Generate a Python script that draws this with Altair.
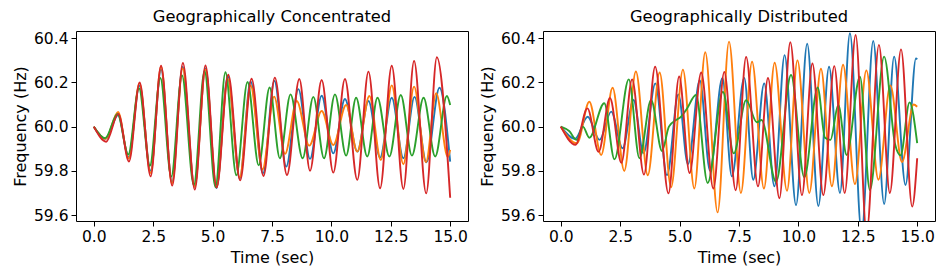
import altair as alt
import pandas as pd

# ---- Geographically Concentrated (left) ----
conc_blue_t = [0, 0.5, 1.02, 1.47, 1.92, 2.39, 2.83, 3.29, 3.74, 4.24, 4.7, 5.16, 5.64, 6.14, 6.6, 7.12, 7.6, 8.1, 8.61, 9.1, 9.59, 10.08, 10.57, 11.09, 11.56, 12.05, 12.54, 13.03, 13.5, 14.0, 14.55, 15.0]
conc_blue_f = [60.0, 59.945, 60.053, 59.862, 60.186, 59.80, 60.258, 59.75, 60.27, 59.728, 60.264, 59.722, 60.228, 59.765, 60.205, 59.788, 60.208, 59.819, 60.170, 59.854, 60.140, 59.879, 60.125, 59.887, 60.116, 59.860, 60.131, 59.857, 60.135, 59.839, 60.176, 59.842]

conc_orange_t = [0, 0.5, 1.02, 1.47, 1.92, 2.39, 2.83, 3.29, 3.74, 4.24, 4.7, 5.16, 5.64, 6.14, 6.6, 7.1, 7.59, 8.05, 8.54, 9.07, 9.59, 10.08, 10.62, 11.09, 11.6, 12.08, 12.54, 13.03, 13.48, 13.98, 14.41, 14.9, 15.0]
conc_orange_f = [60.0, 59.945, 60.067, 59.856, 60.197, 59.79, 60.272, 59.742, 60.264, 59.728, 60.258, 59.725, 60.216, 59.77, 60.186, 59.806, 60.136, 59.877, 60.116, 59.914, 60.071, 59.917, 60.098, 59.887, 60.139, 59.849, 60.187, 59.830, 60.181, 59.839, 60.151, 59.862, 59.895]

conc_green_t = [0, 0.48, 1.0, 1.45, 1.9, 2.36, 2.8, 3.26, 3.71, 4.21, 4.66, 5.12, 5.54, 6.0, 6.47, 6.94, 7.4, 7.83, 8.28, 8.79, 9.24, 9.69, 10.15, 10.62, 11.04, 11.51, 11.94, 12.44, 12.92, 13.39, 13.88, 14.37, 14.86, 15.0]
conc_green_f = [60.0, 59.948, 60.057, 59.874, 60.174, 59.823, 60.220, 59.774, 60.232, 59.736, 60.252, 59.727, 60.246, 59.78, 60.202, 59.825, 60.177, 59.857, 60.146, 59.857, 60.135, 59.857, 60.146, 59.869, 60.131, 59.865, 60.131, 59.865, 60.143, 59.869, 60.131, 59.865, 60.139, 60.098]

conc_red_t = [0, 0.52, 1.03, 1.48, 1.93, 2.39, 2.83, 3.3, 3.75, 4.25, 4.7, 5.17, 5.66, 6.16, 6.64, 7.14, 7.62, 8.13, 8.65, 9.1, 9.59, 10.08, 10.57, 11.09, 11.56, 12.05, 12.54, 13.03, 13.48, 13.99, 14.44, 15.0]
conc_red_f = [60.0, 59.932, 60.058, 59.842, 60.200, 59.775, 60.276, 59.733, 60.288, 59.715, 60.277, 59.725, 60.235, 59.757, 60.217, 59.777, 60.222, 59.781, 60.216, 59.80, 60.211, 59.792, 60.216, 59.759, 60.249, 59.721, 60.276, 59.718, 60.297, 59.698, 60.314, 59.678]

# ---- Geographically Distributed (right) ----
dist_blue_t = [0, 0.6, 1.13, 1.63, 2.12, 2.6, 3.06, 3.48, 3.98, 4.47, 4.95, 5.35, 5.85, 6.28, 6.8, 7.2, 7.72, 8.1, 8.56, 8.99, 9.42, 9.9, 10.37, 10.84, 11.29, 11.75, 12.17, 12.66, 13.15, 13.61, 14.03, 14.51, 14.95, 15.0]
dist_blue_f = [60.0, 59.945, 60.045, 59.94, 60.068, 59.902, 60.121, 59.88, 60.196, 59.78, 60.146, 59.83, 60.21, 59.80, 60.22, 59.775, 60.22, 59.76, 60.196, 59.73, 60.324, 59.645, 60.375, 59.641, 60.271, 59.70, 60.423, 59.52, 60.388, 59.65, 60.317, 59.736, 60.309, 60.305]

dist_orange_t = [0, 0.68, 1.2, 1.7, 2.18, 2.67, 3.16, 3.66, 4.16, 4.64, 5.14, 5.62, 6.08, 6.6, 7.08, 7.58, 8.05, 8.55, 9.0, 9.52, 9.96, 10.46, 10.95, 11.41, 11.88, 12.38, 12.86, 13.37, 13.87, 14.36, 14.85, 15.0]
dist_orange_f = [60.0, 59.925, 60.113, 59.872, 60.176, 59.80, 60.25, 59.78, 60.245, 59.726, 60.258, 59.72, 60.337, 59.612, 60.385, 59.70, 60.294, 59.72, 60.289, 59.71, 60.30, 59.70, 60.262, 59.73, 60.28, 59.74, 60.255, 59.76, 60.187, 59.84, 60.10, 60.09]

dist_green_t = [0, 0.35, 0.67, 0.93, 1.2, 1.83, 2.26, 2.86, 3.31, 3.8, 4.26, 4.55, 4.85, 5.06, 5.3, 5.69, 6.18, 6.82, 7.28, 7.8, 8.25, 8.45, 9.06, 9.69, 10.25, 10.81, 11.12, 11.35, 11.68, 12.03, 12.59, 13.01, 13.61, 14.07, 14.3, 14.68, 15.0]
dist_green_f = [60.0, 59.98, 59.94, 60.0, 59.95, 60.106, 59.852, 60.214, 59.857, 60.121, 59.89, 60.0, 60.03, 60.045, 60.08, 60.143, 59.745, 60.158, 59.879, 60.12, 60.02, 60.03, 59.75, 60.234, 59.77, 60.178, 59.95, 59.94, 60.098, 59.872, 60.226, 59.713, 60.317, 59.92, 59.87, 60.11, 59.925]

dist_red_t = [0, 0.62, 1.12, 1.59, 2.07, 2.55, 3.0, 3.5, 3.97, 4.53, 4.98, 5.42, 5.91, 6.42, 6.88, 7.36, 7.8, 8.3, 8.72, 9.2, 9.66, 10.15, 10.59, 11.05, 11.51, 11.95, 12.41, 12.87, 13.39, 13.85, 14.32, 14.79, 15.0]
dist_red_f = [60.0, 59.918, 60.083, 59.886, 60.13, 59.836, 60.214, 59.783, 60.271, 59.698, 60.227, 59.79, 60.245, 59.72, 60.248, 59.712, 60.315, 59.73, 60.22, 59.676, 60.382, 59.69, 60.286, 59.69, 60.274, 59.70, 60.415, 59.52, 60.37, 59.70, 60.35, 59.638, 59.857]

series_names = ["s1", "s2", "s3", "s4"]
series_colors = ["#1f77b4", "#ff7f0e", "#2ca02c", "#d62728"]
x_ticks = [0.0, 2.5, 5.0, 7.5, 10.0, 12.5, 15.0]
y_ticks = [59.6, 59.8, 60.0, 60.2, 60.4]
titles = ["Geographically Concentrated", "Geographically Distributed"]


def frame(pairs):
    rows = []
    for name, (ts, fs) in zip(series_names, pairs):
        assert len(ts) == len(fs), name
        for t, f in zip(ts, fs):
            rows.append({"series": name, "t": t, "f": f})
    return pd.DataFrame(rows)


conc = frame([(conc_blue_t, conc_blue_f), (conc_orange_t, conc_orange_f),
              (conc_green_t, conc_green_f), (conc_red_t, conc_red_f)])
dist = frame([(dist_blue_t, dist_blue_f), (dist_orange_t, dist_orange_f),
              (dist_green_t, dist_green_f), (dist_red_t, dist_red_f)])


def panel(df, title):
    return alt.Chart(df, title=alt.Title(title, frame="group", offset=6)).mark_line(
        interpolate="monotone", strokeWidth=1.9, clip=True
    ).encode(
        x=alt.X("t:Q", title="Time (sec)",
                scale=alt.Scale(domain=[-0.75, 15.75], nice=False, zero=False),
                axis=alt.Axis(values=x_ticks, format=".1f")),
        y=alt.Y("f:Q", title="Frequency (Hz)",
                scale=alt.Scale(domain=[59.573, 60.433], nice=False, zero=False),
                axis=alt.Axis(values=y_ticks, format=".1f")),
        color=alt.Color("series:N", scale=alt.Scale(domain=series_names, range=series_colors), legend=None),
    ).properties(width=392, height=190)


chart = alt.hconcat(panel(conc, titles[0]), panel(dist, titles[1]), spacing=9).properties(
    padding={"left": 3, "top": 0, "right": 0, "bottom": 0}
).configure(
    font="DejaVu Sans"
).configure_view(
    stroke="black", strokeWidth=1
).configure_axis(
    grid=False, domain=False, tickColor="black", tickSize=5, tickWidth=1,
    labelFontSize=15.5, labelColor="black", labelPadding=3, labelFont="DejaVu Sans",
    titleFontSize=16, titleFontWeight="normal", titleColor="black", titleFont="DejaVu Sans",
    titlePadding=5
).configure_title(
    fontSize=16.3, fontWeight="normal", color="black", font="DejaVu Sans", anchor="middle"
)

chart.save("out.html", embed_options={"renderer": "svg", "actions": False})
